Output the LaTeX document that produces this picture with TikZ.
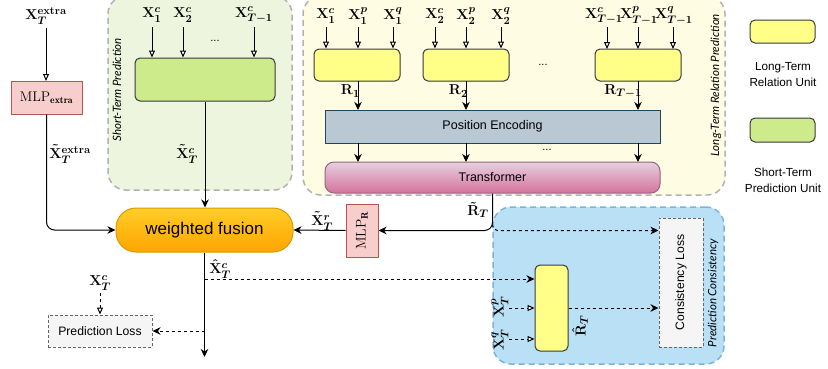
\documentclass[tikz,border=0pt]{standalone}
\usepackage{fontspec}
\usepackage{amsmath}
\newfontfamily\sfx{Liberation Sans}
\newfontfamily\handf{Lato}
\usetikzlibrary{arrows.meta,calc}
\definecolor{gbord}{RGB}{178,178,178}
\definecolor{greg}{RGB}{237,245,222}
\definecolor{yreg}{RGB}{254,253,228}
\definecolor{breg}{RGB}{185,224,245}
\definecolor{bbord}{RGB}{120,180,222}
\definecolor{udark}{RGB}{54,57,61}
\definecolor{ufill}{RGB}{255,255,136}
\definecolor{gfill}{RGB}{205,235,139}
\definecolor{pefill}{RGB}{186,200,211}
\definecolor{pebord}{RGB}{35,68,93}
\definecolor{trtop}{RGB}{230,208,222}
\definecolor{trbot}{RGB}{213,115,157}
\definecolor{trbord}{RGB}{153,97,133}
\definecolor{wftop}{RGB}{255,205,40}
\definecolor{wfbot}{RGB}{255,165,0}
\definecolor{wfbord}{RGB}{215,155,0}
\definecolor{mlpfill}{RGB}{248,206,204}
\definecolor{mlpbord}{RGB}{184,84,80}
\definecolor{lossfill}{RGB}{245,245,245}
\definecolor{lossbord}{RGB}{102,102,102}
\begin{document}
\begin{tikzpicture}[x=1pt,y=-1pt,
  region/.style={draw=gbord, line width=1.5pt, dash pattern=on 6pt off 4pt, rounded corners=18pt, inner sep=0},
  unitbox/.style={draw=udark, line width=1pt, rounded corners=5pt, inner sep=0},
  lbl/.style={inner sep=1.5pt, font=\fontsize{15}{17}\selectfont\boldmath},
  sftext/.style={font=\sfx\fontsize{12.5}{15}\selectfont},
  handtext/.style={font=\handf\itshape\fontsize{11.5}{13}\selectfont, rotate=90, inner sep=0},
  arr/.style={-{Stealth[length=8pt,width=7.5pt,inset=2.5pt]}, line width=1pt},
  oarr/.style={-{Triangle[open,fill=white,length=7pt,width=6pt]}, line width=1pt},
  dsh/.style={dash pattern=on 3pt off 3pt},
  lossbox/.style={draw=lossbord, fill=lossfill, line width=1pt, dash pattern=on 3pt off 2pt, inner sep=0, font=\sfx\fontsize{12.2}{14}\selectfont},
  mlpbox/.style={draw=mlpbord, fill=mlpfill, line width=1pt, inner sep=0, font=\fontsize{14}{16}\selectfont},
  dots/.style={font=\sfx\fontsize{11}{12}\selectfont, inner sep=0}
]
\useasboundingbox (0,0) rectangle (828,368);

% regions
\node[region, fill=greg, minimum width=184pt, minimum height=194pt] (streg) at (200,93) {};
\node[region, fill=yreg, minimum width=422pt, minimum height=199pt] (ltreg) at (514,95.5) {};
\node[region, fill=breg, draw=bbord, minimum width=231pt, minimum height=157pt] (pcreg) at (608.5,285.5) {};

\node[handtext] (sttext) at (117,90) {Short-Term Prediction};
\node[handtext] (lttext) at (716,85) {Long-Term Relation Prediction};
\node[handtext] (pctext) at (713,293) {Prediction Consistency};

% short-term unit
\node[unitbox, fill=gfill, minimum width=140pt, minimum height=43pt] (stu) at (205,79.5) {};
\node[lbl] (sx1) at (152,15) {$\mathbf{X}_1^c$};
\node[lbl] (sx2) at (183,15) {$\mathbf{X}_2^c$};
\node[lbl] (sx3) at (254,15) {$\mathbf{X}_{T-1}^c$};
\node[dots] (sdots) at (215,41) {...};
\foreach \n in {sx1,sx2,sx3} \draw[oarr] (\n.south |- 0,27) -- (\n.south |- stu.north);

% long-term units
\node[unitbox, fill=ufill, minimum width=86pt, minimum height=32pt] (u1) at (357,65) {};
\node[unitbox, fill=ufill, minimum width=86pt, minimum height=32pt] (u2) at (466,65) {};
\node[unitbox, fill=ufill, minimum width=86pt, minimum height=32pt] (u3) at (638,65) {};
\node[dots] (udots) at (543,65) {...};

\node[lbl] (a1) at (326,16) {$\mathbf{X}_1^c$};
\node[lbl] (a2) at (358,16) {$\mathbf{X}_1^p$};
\node[lbl] (a3) at (393,16) {$\mathbf{X}_1^q$};
\node[lbl] (b1) at (435,16) {$\mathbf{X}_2^c$};
\node[lbl] (b2) at (466,16) {$\mathbf{X}_2^p$};
\node[lbl] (b3) at (501,16) {$\mathbf{X}_2^q$};
\node[lbl, inner sep=0] (c1) at (604,16) {$\mathbf{X}_{T-1}^c$};
\node[lbl, inner sep=0] (c2) at (639,16) {$\mathbf{X}_{T-1}^p$};
\node[lbl, inner sep=0] (c3) at (674,16) {$\mathbf{X}_{T-1}^q$};
\foreach \n/\u in {a1/u1,a2/u1,a3/u1,b1/u2,b2/u2,b3/u2} \draw[oarr] (\n.south |- 0,27) -- (\n.south |- \u.north);
\draw[oarr] (607,27) -- (607,49);
\draw[oarr] (638,27) -- (638,49);
\draw[oarr] (673,27) -- (673,49);

% position encoding & transformer
\node[draw=pebord, fill=pefill, line width=1pt, minimum width=335pt, minimum height=33pt, inner sep=0, sftext] (pe) at (492.5,126.5) {Position Encoding};
\node[draw=trbord, top color=trtop, bottom color=trbot, line width=1pt, rounded corners=9pt, minimum width=335pt, minimum height=31pt, inner sep=0, sftext] (tr) at (492.5,177.5) {Transformer};

\draw[arr] (358,81) -- (358,110);
\draw[arr] (466,81) -- (466,110);
\draw[arr] (638,81) -- (638,110);
\node[lbl, anchor=east, inner sep=0] (r1) at (360,91) {$\mathbf{R}_1$};
\node[lbl, anchor=east, inner sep=0] (r2) at (468,91) {$\mathbf{R}_2$};
\node[lbl, anchor=east, inner sep=0] (r3) at (642,91) {$\mathbf{R}_{T-1}$};
\draw[arr] (358,143) -- (358,162);
\draw[arr] (466,143) -- (466,162);
\draw[arr] (638,143) -- (638,162);
\node[dots] (pdots) at (547,150) {...};

% extra branch
\node[lbl] (xext) at (46,16) {$\mathbf{X}_T^{\mathbf{extra}}$};
\node[mlpbox, minimum width=71pt, minimum height=33pt] (mlpe) at (46.5,97.5) {$\mathrm{MLP}_{\mathbf{extra}}$};
\draw[oarr] (46,28) -- (46,81);

% weighted fusion
\node[draw=wfbord, top color=wftop, bottom color=wfbot, line width=1pt, rounded corners=20pt, minimum width=177pt, minimum height=44pt, inner sep=0, font=\sfx\fontsize{17}{20}\selectfont] (wf) at (204.5,230) {weighted fusion};
\draw[arr] (stu.south) -- (stu.south |- wf.north);
\node[lbl] (xtc) at (187,154) {$\tilde{\mathbf{X}}_T^c$};
\draw[arr, rounded corners=8pt] (mlpe.south) |- (wf.west);
\node[lbl] (xtext) at (70,154) {$\tilde{\mathbf{X}}_T^{\mathbf{extra}}$};

% MLP_R
\node[mlpbox, minimum width=32pt, minimum height=53pt] (mlpr) at (362,230.5) {\rotatebox{90}{$\mathrm{MLP}_{\mathbf{R}}$}};
\draw[arr] (mlpr.west) -- (wf.east);
\node[lbl] (xtr) at (322,221) {$\tilde{\mathbf{X}}_T^r$};
\draw[arr, rounded corners=8pt] (tr.south) |- (mlpr.east);
\node[lbl] (rtl) at (478,210) {$\tilde{\mathbf{R}}_T$};

% prediction consistency
\node[lossbox, minimum width=44pt, minimum height=129pt] (cl) at (681,282.5) {\rotatebox{90}{Consistency Loss}};
\node[unitbox, fill=ufill, minimum width=33pt, minimum height=86pt] (yu) at (551.5,308) {};
\coordinate (trc) at (tr.south |- mlpr.east);
\draw[arr, dsh, rounded corners=5pt] ($(trc)+(0,-6)$) -- (trc) -- (trc -| cl.west);

\node[lbl, rotate=90, inner sep=0] (xtp) at (500,307) {$\mathbf{X}_T^p$};
\node[lbl, rotate=90, inner sep=0] (xtq) at (500,340) {$\mathbf{X}_T^q$};
\draw[oarr, dsh] (509,308) -- (509,308 -| yu.west);
\draw[oarr, dsh] (509,339) -- (509,339 -| yu.west);
\draw[arr, dsh] (yu.east) -- (yu.east -| cl.west);
\node[lbl, rotate=90, inner sep=0] (rhat) at (580,326) {$\hat{\mathbf{R}}_T$};

% output
\coordinate (outend) at (204.5,357);
\draw[arr] (wf.south) -- (outend);
\node[lbl] (xhat) at (220,269) {$\hat{\mathbf{X}}_T^c$};
\coordinate (xh) at (204.5,279);
\draw[arr, dsh] (xh) -- (xh -| yu.west);

\node[lossbox, minimum width=104pt, minimum height=32pt] (pl) at (100,331) {Prediction Loss};
\draw[arr, dsh] (wf.south |- pl.east) -- (pl.east);
\node[lbl] (xtc2) at (100,283) {$\mathbf{X}_T^c$};
\draw[oarr, dsh] (100,293) -- (pl.north);

% legend
\node[unitbox, fill=ufill, minimum width=65pt, minimum height=23pt] (lgy) at (782.5,31.5) {};
\node[align=center, font=\sfx\fontsize{11.7}{16}\selectfont, inner sep=0] (lgyt) at (783,75) {Long-Term\\Relation Unit};
\node[unitbox, fill=gfill, minimum width=65pt, minimum height=24pt] (lgg) at (782.5,130) {};
\node[align=center, font=\sfx\fontsize{11.7}{16}\selectfont, inner sep=0] (lggt) at (783,180) {Short-Term\\Prediction Unit};
\end{tikzpicture}
\end{document}
